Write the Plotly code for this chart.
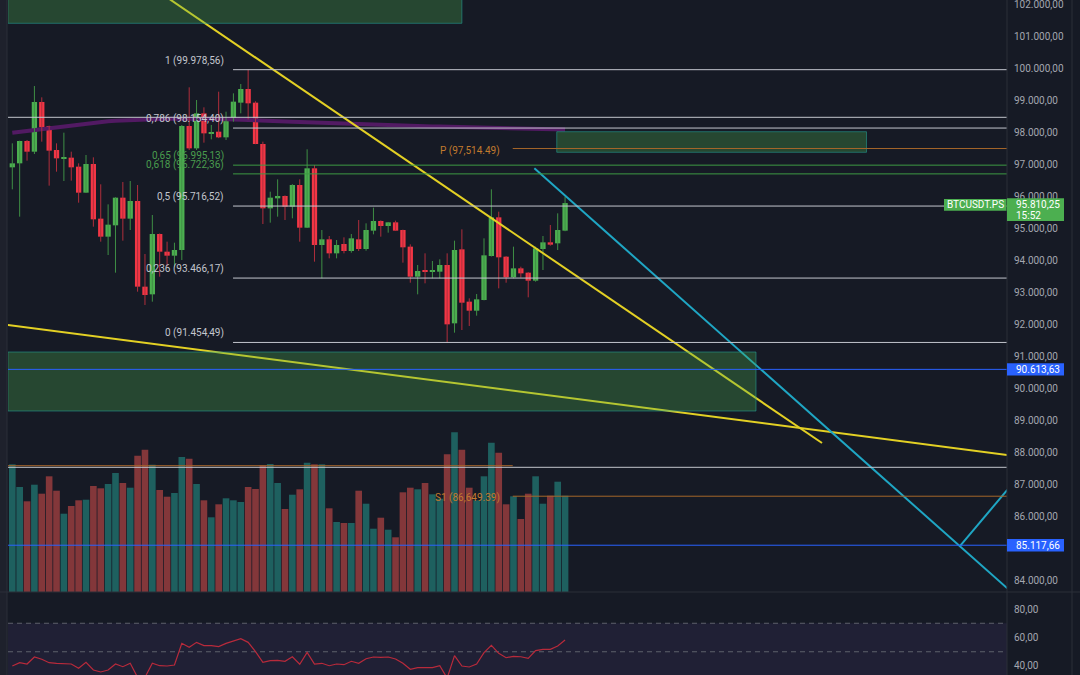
import plotly.graph_objects as go

# ---------------- data ----------------
opens = [96927, 97052, 97750, 97416, 98968, 98218, 97468, 97198, 97229, 96948,
         96135, 97031, 95323, 94760, 95114, 95979, 95323, 95875, 93198, 92958,
         94843, 94291, 94166, 94343, 98218, 97520, 98614, 97989, 98041, 97864,
         98458, 98948, 99375, 98948, 97656, 95645, 95958, 96031, 95698, 96375,
         95041, 96896, 94500, 94677, 94239, 94531, 94312, 94677, 94375, 94948,
         95250, 95093, 95208, 94968, 94448, 93510, 93687, 93666, 93666, 93875,
         92052, 94364, 92729, 92447, 92781, 94156, 95364, 94135, 93489, 93770,
         93635, 93385, 94375, 94583, 94552, 94948]
highs = [97677, 97760, 97781, 99468, 99114, 98228, 97677, 98010, 97416, 97052,
         97312, 97239, 96396, 95770, 95990, 96468, 96500, 96375, 94218, 95437,
         94860, 94604, 94572, 98250, 99427, 99031, 98802, 98250, 99291, 98666,
         99239, 99531, 99978.56, 98990, 97729, 96166, 96552, 96050, 96400, 96552,
         97490, 97000, 94968, 94781, 94656, 94739, 94843, 95281, 95177, 95666,
         95270, 95220, 95260, 94980, 94520, 93875, 94239, 94000, 94052, 94239,
         94635, 94989, 92833, 92968, 94708, 96239, 95541, 94150, 94448, 93822,
         93650, 94448, 94781, 95125, 95489, 96010]
lows = [96239, 95385, 97135, 97343, 97729, 96354, 96791, 96500, 96510, 95823,
        96125, 95073, 94604, 94187, 93635, 94635, 94968, 93041, 92625, 92729,
        93510, 93823, 93823, 94031, 97470, 97468, 97698, 97802, 97840, 97781,
        98354, 98614, 98427, 97650, 95156, 95198, 95385, 95281, 95333, 94604,
        95030, 93979, 93458, 94083, 94083, 94239, 94260, 94312, 94322, 94833,
        94760, 94885, 94940, 93948, 93322, 92958, 93302, 93458, 93458, 91454.49,
        91760, 91843, 91968, 92291, 92770, 94140, 93145, 93322, 93458, 93479,
        92864, 93354, 93718, 94479, 94343, 94930]
closes = [97052, 97750, 97416, 98968, 98177, 97448, 97208, 97239, 96927, 96135,
          97031, 95302, 94760, 95135, 95979, 95323, 95875, 93198, 92937, 94843,
          94291, 94166, 94343, 98218, 97520, 98614, 97989, 98031, 97864, 98458,
          98979, 99375, 98927, 97656, 95645, 95979, 96031, 95697, 96375, 95041,
          96896, 94500, 94677, 94239, 94500, 94312, 94708, 94375, 94968, 95250,
          95093, 95208, 94948, 94427, 93510, 93687, 93666, 93697, 93875, 92020,
          94343, 92697, 92447, 92802, 94177, 95364, 94114, 93489, 93770, 93614,
          93385, 94395, 94583, 94510, 94968, 95810.25]
volumes = [1277, 1050, 907, 1073, 983, 1157, 1013, 783, 860, 917,
           923, 1060, 1037, 1080, 1190, 1090, 1043, 1363, 1423, 1273,
           1020, 953, 990, 1350, 1333, 1080, 917, 747, 877, 937,
           917, 900, 1050, 1030, 1267, 1280, 1090, 830, 973, 1027,
           1293, 1277, 1277, 837, 700, 690, 690, 1013, 883, 633,
           743, 623, 547, 997, 1043, 1027, 1090, 977, 933, 1377,
           1597, 1423, 1043, 917, 1157, 1493, 1393, 877, 957, 730,
           983, 1157, 883, 963, 1103, 963]
rsi = [40.0, 42.3, 41.4, 46.3, 44.7, 42.3, 41.9, 41.6, 41.4, 38.4,
       42.6, 37.2, 35.8, 37.2, 41.4, 39.5, 41.9, 32.0, 32.0, 41.9,
       40.2, 40.0, 40.7, 55.9, 53.1, 56.6, 54.3, 54.3, 53.6, 55.9,
       57.8, 59.2, 56.6, 50.1, 42.6, 43.7, 44.0, 43.3, 46.5, 41.2,
       49.6, 41.4, 41.9, 40.2, 41.4, 40.9, 43.3, 41.9, 45.1, 46.3,
       46.1, 46.3, 44.9, 41.9, 37.7, 38.8, 38.8, 38.8, 40.2, 31.5,
       47.3, 40.0, 39.3, 41.4, 49.4, 54.5, 48.9, 45.8, 46.8, 46.5,
       45.4, 50.8, 51.7, 51.7, 54.0, 58.2]
ma = [98006, 98034, 98062, 98094, 98125, 98156, 98187, 98219, 98250, 98278,
      98303, 98325, 98347, 98365, 98381, 98394, 98406, 98415, 98425, 98431,
      98437, 98444, 98447, 98450, 98450, 98450, 98447, 98444, 98437, 98431,
      98425, 98419, 98409, 98400, 98390, 98381, 98372, 98362, 98350, 98340,
      98331, 98322, 98312, 98303, 98294, 98284, 98275, 98269, 98262, 98256,
      98250, 98244, 98237, 98231, 98225, 98219, 98212, 98206, 98200, 98194,
      98187, 98181, 98178, 98172, 98165, 98159, 98153, 98147, 98140, 98137,
      98131, 98125, 98122, 98119, 98112, 98109]

# axis tick labels visible in the reference (85.000 is hidden under the blue price tag)
price_ticks = [84000, 86000, 87000, 88000, 89000, 90000, 91000, 92000,
               93000, 94000, 95000, 96000, 97000, 98000, 99000, 100000, 101000, 102000]
rsi_ticks = [40, 60, 80]
rsi_bands = [70, 50, 30]

fib_ratios = ["1", "0,786", "0,65", "0,618", "0,5", "0,236", "0"]
fib_prices = [99978.56, 98154.40, 96995.13, 96722.36, 95716.52, 93466.17, 91454.49]
pivot_names = ["P", "S1"]
pivot_prices = [97514.49, 86649.39]
prev_pivot = 87603
white_levels = [98490, 87553]
blue_levels = [90613.63, 85117.66]
last_time = "15:52"
symbol = "BTCUSDT.PS"

# drawings: (bar index, price) anchor points
yellow_a = ([20.0, 109.86], [102393, 88312])
yellow_b = ([-0.6, 135.0], [92000, 87937])
teal_c = ([70.83, 135.0], [96897, 83772])
teal_d = ([128.6, 135.0], [85094, 86848])
zones = [(-0.6, 61.0, 101428, 102600), (73.87, 115.9, 97397, 98040), (-0.6, 100.9, 89312, 91156)]
fib_start = 29.95
pivot_start = 67.9

# ---------------- layout constants ----------------
W, H = 1080, 675
XL, XR = 8, 1007          # plot area in px
PANE_B = 592              # bottom of price pane in px
XRANGE = [-0.583, 134.96]
YRANGE = [83656, 102156]
RSIRANGE = [33.68, 91.93]
VOLRANGE = [0, 5920]
dom_lo = (H - PANE_B) / H

BG = "#161a25"
UP, DN = "#4caf50", "#f23645"
UPW, DNW = "#3f8f45", "#b02e3c"
AXC = "#a3a6af"
FONT = "Roboto"


def eu(v):
    s = f"{v:,.2f}"
    return s.replace(",", "X").replace(".", ",").replace("X", ".")


def ypaper(p):
    return dom_lo + (p - YRANGE[0]) / (YRANGE[1] - YRANGE[0]) * (1 - dom_lo)


n = len(closes)
idx = list(range(n))

fig = go.Figure()

# volume
vcol = ["rgba(38,166,154,0.5)" if c >= o else "rgba(239,83,80,0.5)" for o, c in zip(opens, closes)]
fig.add_trace(go.Bar(x=idx, y=volumes, marker=dict(color=vcol, line=dict(width=0)), width=0.9,
                     yaxis="y3", hoverinfo="skip"))

# moving average
fig.add_trace(go.Scatter(x=idx, y=ma, mode="lines", line=dict(color="#521a63", width=4),
                         hoverinfo="skip"))

# wicks
for up, col in ((True, UPW), (False, DNW)):
    wx, wy = [], []
    for i in idx:
        if (closes[i] >= opens[i]) == up:
            wx += [i, i, None]
            wy += [lows[i], highs[i], None]
    fig.add_trace(go.Scatter(x=wx, y=wy, mode="lines", line=dict(color=col, width=1), hoverinfo="skip"))

# bodies
MINB = 32
for up, col in ((True, UP), (False, DN)):
    bx, bb, bh = [], [], []
    for i in idx:
        if (closes[i] >= opens[i]) == up:
            lo = min(opens[i], closes[i])
            bx.append(i)
            bb.append(lo)
            bh.append(max(abs(closes[i] - opens[i]), MINB))
    fig.add_trace(go.Bar(x=bx, y=bh, base=bb, width=0.72, marker=dict(color=col, line=dict(width=0)),
                         hoverinfo="skip"))

# trend lines
for (lx, ly), col in ((yellow_a, "#e3d024"), (yellow_b, "#e3d024"), (teal_c, "#1fa6c4"), (teal_d, "#1fa6c4")):
    fig.add_trace(go.Scatter(x=lx, y=ly, mode="lines", line=dict(color=col, width=2), hoverinfo="skip"))

# RSI
fig.add_trace(go.Scatter(x=idx, y=rsi, mode="lines", line=dict(color="#b82a3b", width=1.2),
                         yaxis="y2", hoverinfo="skip"))

shapes = []
ann = []
# zones
for x0, x1, y0, y1 in zones:
    shapes.append(dict(type="rect", xref="x", yref="y", x0=x0, x1=x1, y0=y0, y1=y1,
                       fillcolor="rgba(76,175,80,0.30)", line=dict(color="rgba(38,166,154,0.55)", width=1),
                       layer="above"))
# horizontal levels
for lv in white_levels:
    shapes.append(dict(type="line", xref="x", yref="y", x0=XRANGE[0], x1=XRANGE[1], y0=lv, y1=lv,
                       line=dict(color="#c3c6ce", width=1)))
shapes.append(dict(type="line", xref="x", yref="y", x0=XRANGE[0], x1=pivot_start, y0=prev_pivot, y1=prev_pivot,
                   line=dict(color="#a5662a", width=1)))
for lv in blue_levels:
    shapes.append(dict(type="line", xref="x", yref="y", x0=XRANGE[0], x1=XRANGE[1], y0=lv, y1=lv,
                       line=dict(color="#2962ff", width=1)))
for r, p in zip(fib_ratios, fib_prices):
    green = r in ("0,65", "0,618")
    col = "#3e9a43" if green else "#c3c6ce"
    shapes.append(dict(type="line", xref="x", yref="y", x0=fib_start, x1=XRANGE[1], y0=p, y1=p,
                       line=dict(color=col, width=1)))
    ann.append(dict(x=fib_start - 0.95, y=p, xref="x", yref="y", text=f"{r} ({eu(p)})", showarrow=False,
                    xanchor="right", yanchor="middle", yshift=9,
                    font=dict(family=FONT, size=10, color="#4a9d4e" if green else "#c3c6ce")))
for name, p in zip(pivot_names, pivot_prices):
    shapes.append(dict(type="line", xref="x", yref="y", x0=pivot_start, x1=XRANGE[1], y0=p, y1=p,
                       line=dict(color="#a5662a", width=1)))
    ann.append(dict(x=pivot_start - 1.5, y=p, xref="x", yref="y", text=f"{name} ({p:,.2f})", showarrow=False,
                    xanchor="right", yanchor="middle", yshift=-2,
                    font=dict(family=FONT, size=10, color="#c27a2e")))

# RSI bands
shapes.append(dict(type="rect", xref="x", yref="y2", x0=XRANGE[0], x1=XRANGE[1], y0=rsi_bands[2], y1=rsi_bands[0],
                   fillcolor="rgba(126,87,194,0.10)", line=dict(width=0), layer="below"))
for b in rsi_bands:
    shapes.append(dict(type="line", xref="x", yref="y2", x0=XRANGE[0], x1=XRANGE[1], y0=b, y1=b,
                       line=dict(color="#5d606b", width=1, dash="5px,4px"), layer="below"))

# frame lines
shapes.append(dict(type="rect", xref="paper", yref="paper", x0=0, x1=(XL - 1) / W, y0=0, y1=1,
                   fillcolor="#1e212c", line=dict(width=0), layer="above"))
for xv in (XL - 1, XR, 1072):
    shapes.append(dict(type="line", xref="paper", yref="paper", x0=xv / W, x1=xv / W, y0=0, y1=1,
                       line=dict(color="#2a2e39", width=1), layer="above"))
shapes.append(dict(type="line", xref="paper", yref="paper", x0=0, x1=1, y0=dom_lo, y1=dom_lo,
                   line=dict(color="#2a2e39", width=1), layer="above"))

# last price label
last = closes[-1]
yl = ypaper(last)
shapes.append(dict(type="rect", xref="paper", yref="paper", x0=XR / W, x1=1064 / W,
                   y0=yl - 18 / H, y1=yl + 4.8 / H, fillcolor="#4caf50", line=dict(width=0), layer="above"))
ann.append(dict(x=1014 / W, y=yl - 1.5 / H, xref="paper", yref="paper", text=eu(last), showarrow=False,
                xanchor="left", yanchor="middle", font=dict(family=FONT, size=10, color="#ffffff")))
ann.append(dict(x=1014 / W, y=yl - 12 / H, xref="paper", yref="paper", text=last_time, showarrow=False,
                xanchor="left", yanchor="middle", font=dict(family=FONT, size=10, color="#ffffff")))
shapes.append(dict(type="rect", xref="paper", yref="paper", x0=944 / W, x1=(XR - 0.5) / W,
                   y0=yl - 7.6 / H, y1=yl + 4 / H, fillcolor="#4caf50", line=dict(width=0), layer="above"))
ann.append(dict(x=975.5 / W, y=yl - 1.8 / H, xref="paper", yref="paper", text=symbol, showarrow=False,
                xanchor="center", yanchor="middle", font=dict(family=FONT, size=10, color="#ffffff")))
for lv in blue_levels:
    yb = ypaper(lv)
    shapes.append(dict(type="rect", xref="paper", yref="paper", x0=XR / W, x1=1064 / W,
                       y0=yb - 6.2 / H, y1=yb + 6.2 / H, fillcolor="#2962ff", line=dict(width=0), layer="above"))
    ann.append(dict(x=1014 / W, y=yb, xref="paper", yref="paper", text=eu(lv), showarrow=False,
                    xanchor="left", yanchor="middle", font=dict(family=FONT, size=10, color="#ffffff")))

fig.update_layout(
    width=W, height=H, margin=dict(l=0, r=0, t=0, b=0),
    paper_bgcolor=BG, plot_bgcolor=BG, showlegend=False, barmode="overlay",
    xaxis=dict(domain=[XL / W, XR / W], range=XRANGE, visible=False, anchor="y"),
    yaxis=dict(domain=[dom_lo, 1], range=YRANGE, side="right", anchor="x",
               tickvals=price_ticks, ticktext=[eu(v) for v in price_ticks],
               showgrid=False, zeroline=False, showline=False, ticks="", ticklabelstandoff=6,
               ticklabeloverflow="allow",
               tickfont=dict(family=FONT, size=10, color=AXC)),
    yaxis2=dict(domain=[0, dom_lo], range=RSIRANGE, side="right", anchor="x",
                tickvals=rsi_ticks, ticktext=[eu(v) for v in rsi_ticks],
                showgrid=False, zeroline=False, showline=False, ticks="", ticklabelstandoff=6,
                ticklabeloverflow="allow",
                tickfont=dict(family=FONT, size=10, color=AXC)),
    yaxis3=dict(overlaying="y", range=VOLRANGE, visible=False, anchor="x"),
    shapes=shapes, annotations=ann,
)

fig.write_html("out.html")
